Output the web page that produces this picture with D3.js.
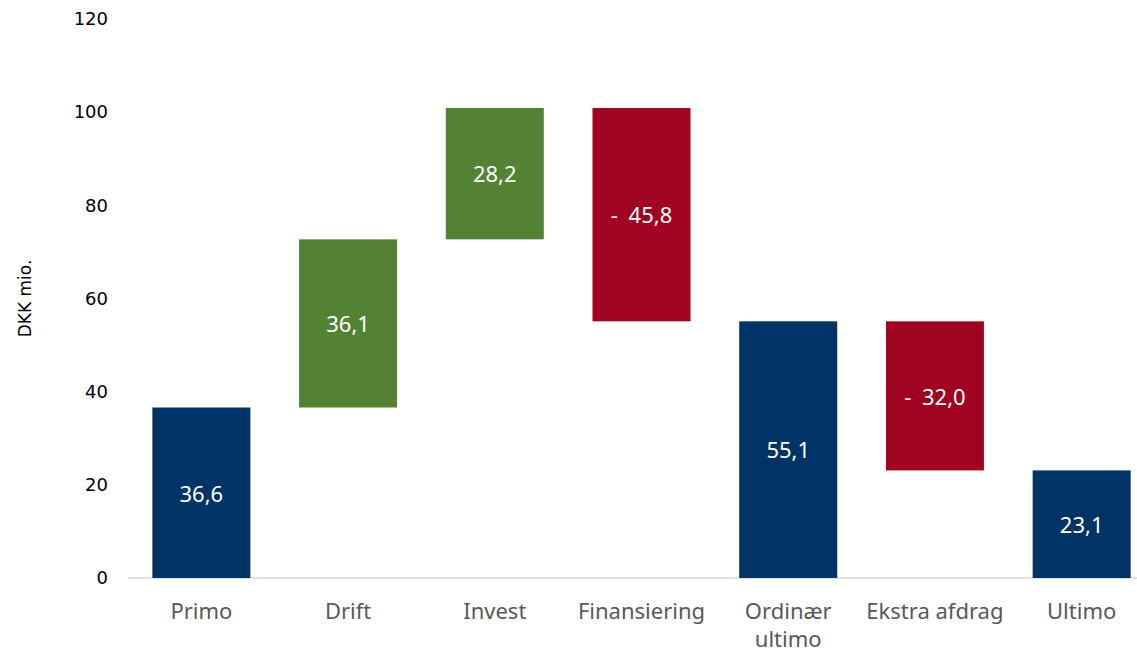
<!DOCTYPE html>
<html>
<head>
<meta charset="utf-8">
<script src="https://cdn.jsdelivr.net/npm/d3@7"></script>
<style>
  html, body { margin: 0; padding: 0; background: #fff; }
  svg { display: block; font-family: "DejaVu Sans", Verdana, sans-serif; }
</style>
</head>
<body>
<svg id="chart" width="1137" height="652"></svg>
<script>
// Cash-flow waterfall, DKK mio.
const categories = ["Primo", "Drift", "Invest", "Finansiering", "Ordinær ultimo", "Ekstra afdrag", "Ultimo"];
const changes    = [null, 36.1, 28.2, -45.8, null, -32.0, null];   // movement bars
const totals     = [36.6, null, null, null, 55.1, null, 23.1];     // subtotal bars from zero
const yTicks     = [0, 20, 40, 60, 80, 100, 120];

const colors = { total: "#003366", up: "#548235", down: "#A00421" };
const labelFont = "'Noto Sans', 'Open Sans', sans-serif";
const fmt = v => Math.abs(v).toFixed(1).replace(".", ",");

// Build floating segments
let running = 0;
const bars = categories.map((c, i) => {
  let y0, y1, kind, value;
  if (totals[i] !== null) {
    value = totals[i];
    y0 = 0; y1 = value; running = value; kind = "total";
  } else {
    value = changes[i];
    y0 = running; y1 = running + value; running = y1;
    kind = value >= 0 ? "up" : "down";
  }
  return { cat: c, lo: Math.min(y0, y1), hi: Math.max(y0, y1), value, kind };
});

const svg = d3.select("#chart");
const x = d3.scaleBand().domain(categories).range([128, 1155]).paddingInner(0.332).paddingOuter(0.166);
const y = d3.scaleLinear().domain([0, 120]).range([578, 19]);

// Baseline
svg.append("line")
  .attr("x1", 128).attr("x2", 1137)
  .attr("y1", y(0)).attr("y2", y(0))
  .attr("stroke", "#d9d9d9").attr("stroke-width", 1.5);

// Y tick labels
svg.append("g").selectAll("text").data(yTicks).join("text")
  .attr("x", 108).attr("y", d => y(d))
  .attr("dy", "0.35em").attr("text-anchor", "end")
  .attr("font-size", 18).attr("fill", "#000")
  .text(d => d);

// Axis title
svg.append("text")
  .attr("transform", `translate(31,${y(60)}) rotate(-90)`)
  .attr("text-anchor", "middle").attr("font-size", 17).attr("fill", "#000")
  .text("DKK mio.");

// Bars
svg.append("g").selectAll("rect").data(bars).join("rect")
  .attr("x", d => x(d.cat)).attr("width", x.bandwidth())
  .attr("y", d => y(d.hi)).attr("height", d => y(d.lo) - y(d.hi))
  .attr("fill", d => colors[d.kind]);

// Value labels: negatives shown as "- 45,8"
const vl = svg.append("g").selectAll("text").data(bars).join("text")
  .attr("x", d => x(d.cat) + x.bandwidth() / 2)
  .attr("y", d => y((d.lo + d.hi) / 2))
  .attr("dy", "0.4em").attr("text-anchor", "middle")
  .attr("font-family", labelFont)
  .attr("font-size", 22).attr("fill", "#fff");
vl.each(function(d) {
  const t = d3.select(this);
  if (d.value < 0) {
    t.append("tspan").text("- ");
    t.append("tspan").attr("dx", 5).text(fmt(d.value));
  } else {
    t.text(fmt(d.value));
  }
});

// Category labels (wrap two-word "Ordinær ultimo")
const catG = svg.append("g").selectAll("text").data(categories).join("text")
  .attr("x", d => x(d) + x.bandwidth() / 2)
  .attr("y", 619)
  .attr("text-anchor", "middle")
  .attr("font-family", labelFont)
  .attr("font-size", 22).attr("fill", "#595959");
catG.each(function(d) {
  const t = d3.select(this);
  const lines = d === "Ordinær ultimo" ? ["Ordinær", "ultimo"] : [d];
  lines.forEach((l, k) => {
    t.append("tspan").attr("x", x(d) + x.bandwidth() / 2).attr("dy", k === 0 ? 0 : "1.25em").text(l);
  });
});
</script>
</body>
</html>
